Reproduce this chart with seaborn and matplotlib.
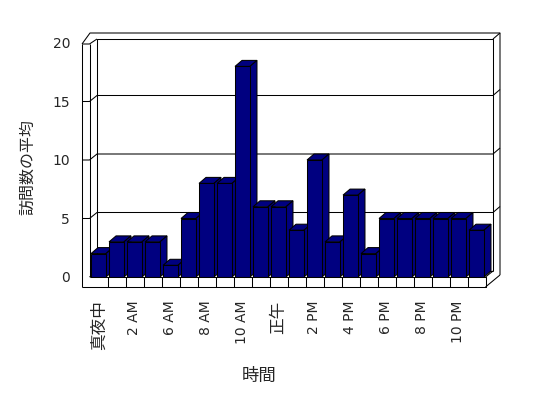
import matplotlib
matplotlib.use("Agg")
import matplotlib.pyplot as plt
import seaborn as sns
import pandas as pd
from matplotlib.patches import Polygon

# ---- data ----
hours = ["真夜中", "1 AM", "2 AM", "5 AM", "6 AM", "7 AM", "8 AM", "9 AM", "10 AM",
         "11 AM", "正午", "1 PM", "2 PM", "3 PM", "4 PM", "5 PM", "6 PM", "7 PM",
         "8 PM", "9 PM", "10 PM", "11 PM"]
visits = [2, 3, 3, 3, 1, 5, 8, 8, 18, 6, 6, 4, 10, 3, 7, 2, 5, 5, 5, 5, 5, 4]
y_ticks = [0, 5, 10, 15, 20]
x_title = "時間"
y_title = "訪問数の平均"

sns.set_style("white")
plt.rcParams["font.family"] = ["DejaVu Sans", "Noto Sans CJK JP"]

W, H = 548, 398
fig = plt.figure(figsize=(W / 100, H / 100), dpi=100)
# front plane of plot area in pixels
X0, X1, YB, YT = 89.5, 485.5, 277.0, 43.0
ax = fig.add_axes([X0 / W, 1 - YB / H, (X1 - X0) / W, (YB - YT) / H])

df = pd.DataFrame({"hour": hours, "visits": visits})
NAVY = "#000080"
sns.barplot(data=df, x="hour", y="visits", color=NAVY, saturation=1, width=0.83,
            edgecolor="black", linewidth=0.75, ax=ax)
ax.set_xlim(-0.5, len(hours) - 0.5)
ax.set_ylim(0, 20)
ax.set_facecolor("none")
for s in ax.spines.values():
    s.set_visible(False)

ppx = (len(hours)) / (X1 - X0)   # data units per px (x)
ppy = 20 / (YB - YT)              # data units per px (y)

def P(xp, yp):
    return (-0.5 + (xp - X0) * ppx, (YB - yp) * ppy)

# bar depth
bdx, bdy = 7 * ppx, 6 * ppy
for i, p in enumerate(ax.patches):
    x0, w, h = p.get_x(), p.get_width(), p.get_height()
    z = 3 + i * 0.01
    p.set_zorder(z + 0.005)
    top = Polygon([(x0, h), (x0 + bdx, h + bdy), (x0 + w + bdx, h + bdy), (x0 + w, h)],
                  closed=True, facecolor=NAVY, edgecolor="black", lw=0.75, zorder=z, clip_on=False)
    side = Polygon([(x0 + w, 0), (x0 + w, h), (x0 + w + bdx, h + bdy), (x0 + w + bdx, bdy)],
                   closed=True, facecolor=NAVY, edgecolor="black", lw=0.75, zorder=z, clip_on=False)
    ax.add_patch(top)
    ax.add_patch(side)

def line(pts, z=1):
    xs, ys = zip(*[P(*q) for q in pts])
    ax.plot(xs, ys, color="black", lw=0.75, clip_on=False, zorder=z, solid_capstyle="butt")

# walls and floor (frame)
BL, BR, BT, BB = 97, 493, 39, 271  # back wall inner face
OL, OT, OR = 82, 33, 500           # outer edges
FB = 287                            # floor front bottom
line([(BL, BB), (BL, BT), (BR, BT), (BR, BB)])
line([(OL, FB), (OL, 44)])
line([(X0, YB), (X0, 44)])
line([(OL, 44), (X0, 44), (BL, BT)])
line([(OL, 44), (90, OT), (OR, OT), (OR, 275)])
line([(BR, BT), (OR, OT)])
line([(X0, YB), (BL, BB)])
line([(BL, BB), (BR, BB)])
line([(X0, YB), (X1, YB), (X1, FB), (OL, FB)], z=5)
line([(X1, YB), (BR, BB)], z=5)
line([(X1, FB), (OR, 275)], z=5)
for k in range(1, len(hours)):
    xp = X0 + k / ppx
    line([(xp, YB), (xp, FB)], z=5)
# gridlines
for v in y_ticks[1:-1]:
    yf = YB - v / ppy
    yb = BB - v / ppy
    line([(OL, yf), (X0, yf), (BL, yb), (BR, yb), (OR, yb - 6)])

# ticks
ax.set_yticks(y_ticks)
ax.set_yticklabels([str(v) for v in y_ticks], fontsize=10)
ax.set_xticks(range(len(hours)))
labels = [h if i % 2 == 0 else "" for i, h in enumerate(hours)]
ax.set_xticklabels(labels, rotation=90)
for t in ax.get_xticklabels():
    txt = t.get_text()
    if any(ord(c) > 0x3000 for c in txt):
        t.set_fontsize(12)
    else:
        t.set_fontsize(10)
ax.tick_params(axis="x", length=0, pad=17)
ax.tick_params(axis="y", length=0, pad=14)
ax.set_xlabel("")
ax.set_ylabel("")

fig.text(259.5 / W, 1 - 376 / H, x_title, fontsize=12.5, ha="center", va="center")
fig.text(28 / W, 1 - 167 / H, y_title, fontsize=11.5, ha="center", va="center", rotation=90)

fig.savefig("out.png", dpi=100, facecolor="white")
